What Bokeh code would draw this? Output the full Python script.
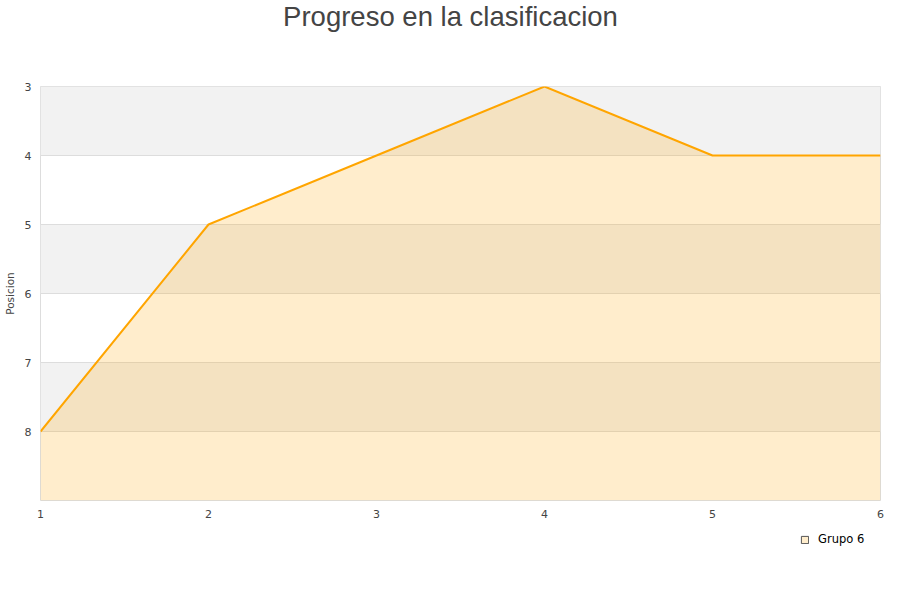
from bokeh.plotting import figure
from bokeh.layouts import column
from bokeh.models import Range1d, FixedTicker, Legend, LegendItem, ColumnDataSource, Label
from bokeh.embed import file_html
from bokeh.resources import INLINE

# Data
titulo = "Progreso en la clasificacion"
jornadas = [1, 2, 3, 4, 5, 6]
posicion = [8, 5, 4, 3, 4, 4]
serie = "Grupo 6"
y_ticks = [3, 4, 5, 6, 7, 8]
y_bottom = 9
y_top = 3
bandas = y_ticks[::2]  # shaded grid bands start at these ticks

src = ColumnDataSource(dict(x=jornadas, y=posicion, y2=[y_bottom] * len(jornadas)))
band_src = ColumnDataSource(dict(top=bandas, bottom=[b + 1 for b in bandas],
                                 left=[jornadas[0]] * len(bandas),
                                 right=[jornadas[-1]] * len(bandas)))

W = 890

# Title strip (coordinates of this strip are page pixels)
p0 = figure(width=W, height=32, output_backend="svg", toolbar_location=None,
            x_range=Range1d(40, 880), y_range=Range1d(32, 0),
            x_axis_type=None, y_axis_type=None,
            min_border_left=40, min_border_right=10, min_border_top=0, min_border_bottom=0)
p0.outline_line_color = None
p0.xgrid.visible = False
p0.ygrid.visible = False
p0.add_layout(Label(x=450, y=16, text=titulo, text_align="center", text_baseline="middle",
                    text_font="Liberation Sans", text_font_size="27.5px",
                    text_color="#444444"))

p = figure(width=W, height=498, output_backend="svg", toolbar_location=None,
           x_range=Range1d(jornadas[0], jornadas[-1]), y_range=Range1d(y_bottom, y_top),
           min_border_left=40, min_border_right=10, min_border_top=54, min_border_bottom=30)

p.outline_line_color = "#dddddd"
p.background_fill_color = "white"

p.xgrid.visible = False
p.ygrid.grid_line_color = "#dddddd"
p.ygrid.band_fill_color = None

for ax in (p.xaxis[0], p.yaxis[0]):
    ax.axis_line_color = None
    ax.major_tick_line_color = None
    ax.minor_tick_line_color = None
    ax.major_tick_out = 0
    ax.major_tick_in = 0
    ax.minor_tick_out = 0
    ax.minor_tick_in = 0
    ax.major_label_text_font = "DejaVu Sans"
    ax.major_label_text_font_size = "11px"
    ax.major_label_text_color = "#444444"

p.xaxis.ticker = FixedTicker(ticks=jornadas)
p.yaxis.ticker = FixedTicker(ticks=y_ticks)
p.xaxis.major_label_standoff = 9
p.yaxis.major_label_standoff = 9
p.yaxis.axis_label = "Posicion"
p.yaxis.axis_label_text_font = "DejaVu Sans"
p.yaxis.axis_label_text_font_size = "10.5px"
p.yaxis.axis_label_text_font_style = "normal"
p.yaxis.axis_label_text_color = "#444444"
p.yaxis.axis_label_standoff = 6

p.quad(top="top", bottom="bottom", left="left", right="right", source=band_src,
       fill_color="#f2f2f2", line_color=None, level="underlay")
p.varea(x="x", y1="y", y2="y2", source=src, fill_color="orange", fill_alpha=0.2)
p.line(x="x", y="y", source=src, line_color="orange", line_width=2)

# Legend strip below the chart
p2 = figure(width=W, height=30, output_backend="svg", toolbar_location=None,
            x_range=Range1d(0, 1), y_range=Range1d(0, 1),
            x_axis_type=None, y_axis_type=None,
            min_border_left=40, min_border_right=10, min_border_top=0, min_border_bottom=0)
p2.outline_line_color = None
p2.background_fill_color = "white"
# legend proxy: one box kept outside the visible range of this strip
dummy = p2.quad(top=[-2], bottom=[-3], left=[-3], right=[-2], fill_color="#ffedcc",
                line_color="#555555", line_width=1)

legend = Legend(items=[LegendItem(label=serie, renderers=[dummy])],
                location=(760, 14), orientation="horizontal",
                background_fill_alpha=0, border_line_color=None,
                label_text_font="DejaVu Sans", label_text_font_size="11.5px",
                label_text_color="#000000", glyph_width=9, glyph_height=9,
                padding=2, spacing=0, label_standoff=9, margin=0)
p2.add_layout(legend, "center")

layout = column(p0, p, p2, spacing=0)
open("out.html", "w").write(file_html(layout, INLINE))
